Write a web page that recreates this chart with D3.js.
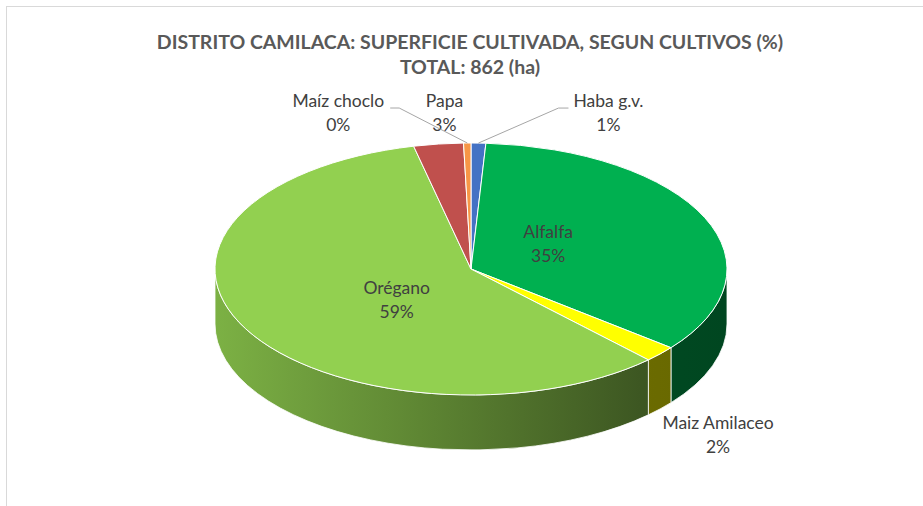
<!DOCTYPE html>
<html>
<head>
<meta charset="utf-8">
<script src="https://cdn.jsdelivr.net/npm/d3@7"></script>
<style>
  body { margin: 0; background: #fff; }
  svg { display: block; }
</style>
</head>
<body>
<div id="chart"></div>
<script>
// datos: superficie cultivada (ha), distrito Camilaca
const cultivos = ["Haba g.v.", "Alfalfa", "Maiz Amilaceo", "Orégano", "Papa", "Maíz choclo"];
const hectareas = [8, 300, 18, 505, 27, 4];
const colores = ["#4472C4", "#00B050", "#FFFF00", "#92D050", "#C0504D", "#F79646"];
const titulo = ["DISTRITO CAMILACA: SUPERFICIE CULTIVADA, SEGUN CULTIVOS (%)", "TOTAL: 862 (ha)"];

const width = 923, height = 506;
const cx = 471, cy = 269, rx = 256, ry = 126, depth = 55;

const svg = d3.select("#chart").append("svg")
  .attr("width", width)
  .attr("height", height);

// chart area border
svg.append("rect")
  .attr("x", 6.5).attr("y", 6.5)
  .attr("width", width + 10).attr("height", height + 10)
  .attr("fill", "#fff")
  .attr("stroke", "#d9d9d9");

const total = d3.sum(hectareas);
const fmt = d3.format(".0%");
const arcs = d3.pie().sort(null).value(d => d)(hectareas);

const pt = (a, dy = 0) => [cx + rx * Math.sin(a), cy - ry * Math.cos(a) + dy];

// side shading, lighter to the left like excel
const shade = d3.scaleLinear().domain([0, 0.83, 1]).range([0.85, 0.42, 0.40]);
const defs = svg.append("defs");
colores.forEach((c, i) => {
  const g = defs.append("linearGradient")
    .attr("id", "lado" + i)
    .attr("gradientUnits", "userSpaceOnUse")
    .attr("x1", cx - rx).attr("x2", cx + rx)
    .attr("y1", 0).attr("y2", 0);
  [0, 0.2, 0.4, 0.6, 0.83, 1].forEach(o => {
    const base = d3.rgb(c), f = shade(o);
    g.append("stop").attr("offset", o)
      .attr("stop-color", d3.rgb(base.r * f, base.g * f, base.b * f).formatHex());
  });
});

// sides (only front half is visible)
arcs.forEach((d, i) => {
  const s0 = Math.max(d.startAngle, Math.PI / 2);
  const s1 = Math.min(d.endAngle, 3 * Math.PI / 2);
  if (s1 <= s0) return;
  const big = s1 - s0 > Math.PI ? 1 : 0;
  const p0 = pt(s0), p1 = pt(s1), q1 = pt(s1, depth), q0 = pt(s0, depth);
  svg.append("path")
    .attr("d", `M${p0}A${rx},${ry} 0 ${big} 1 ${p1}L${q1}A${rx},${ry} 0 ${big} 0 ${q0}Z`)
    .attr("fill", `url(#lado${i})`)
    .attr("stroke", "#fff")
    .attr("stroke-width", 0.8);
});

// top faces
svg.selectAll(".top")
  .data(arcs)
  .join("path")
  .attr("class", "top")
  .attr("d", d => {
    const big = d.endAngle - d.startAngle > Math.PI ? 1 : 0;
    return `M${cx},${cy}L${pt(d.startAngle)}A${rx},${ry} 0 ${big} 1 ${pt(d.endAngle)}Z`;
  })
  .attr("fill", (d, i) => colores[i])
  .attr("stroke", "#fff")
  .attr("stroke-width", 1);

// labels
const dentro = new Set(["Alfalfa", "Orégano"]);
const fuera = {
  "Haba g.v.": [130, -31],
  "Papa": [6, -32],
  "Maíz choclo": [-129, -31],
  "Maiz Amilaceo": [58, 80]
};
const conGuia = new Set(["Haba g.v.", "Maíz choclo"]);

arcs.forEach((d, i) => {
  const name = cultivos[i];
  const mid = (d.startAngle + d.endAngle) / 2;
  let x, y;
  if (dentro.has(name)) {
    x = cx + rx * 0.33 * Math.sin(mid);
    y = cy - ry * 0.5 * Math.cos(mid);
  } else {
    const e = pt(mid);
    x = e[0] + fuera[name][0];
    y = e[1] + fuera[name][1];
  }
  const t = svg.append("text")
    .attr("x", x).attr("y", y)
    .attr("text-anchor", "middle")
    .attr("font-family", "Lato, 'Open Sans', sans-serif")
    .attr("font-size", 17.5)
    .attr("fill", "#404040");
  t.append("tspan").attr("x", x).attr("dy", -5).text(name);
  t.append("tspan").attr("x", x).attr("dy", 24).text(fmt(hectareas[i] / total));

  if (conGuia.has(name)) {
    const bb = t.node().getBBox();
    const e = pt(mid);
    const left = e[0] < x;
    const sx = left ? bb.x - 5 : bb.x + bb.width + 6;
    const sy = y - 4;
    const kx = left ? sx - 10 : sx + 9;
    svg.append("polyline")
      .attr("points", [[sx, sy], [kx, sy], e].join(" "))
      .attr("fill", "none")
      .attr("stroke", "#a6a6a6")
      .attr("stroke-width", 1);
  }
});

// title
svg.append("g").selectAll("text")
  .data(titulo)
  .join("text")
  .attr("x", 470)
  .attr("y", (d, i) => 49 + i * 25)
  .attr("text-anchor", "middle")
  .attr("font-family", "Lato, 'Open Sans', sans-serif")
  .attr("font-weight", "bold")
  .attr("font-size", 19.5)
  .attr("fill", "#595959")
  .text(d => d);
</script>
</body>
</html>
